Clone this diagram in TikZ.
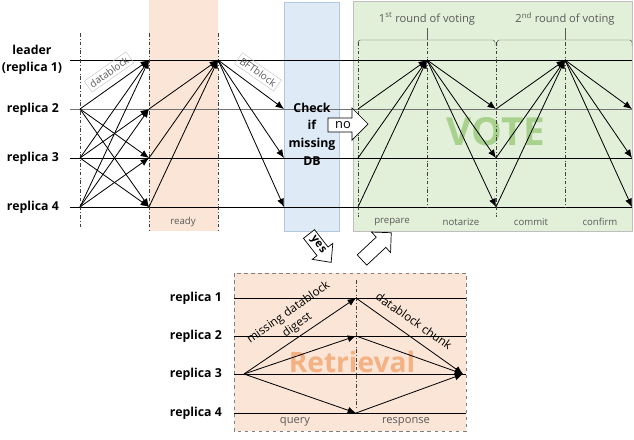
\documentclass[tikz,border=0pt]{standalone}
\usepackage{fontspec}
\setmainfont{Open Sans}
\usepackage{xcolor}
\usetikzlibrary{arrows.meta, positioning}

\definecolor{readybg}{HTML}{FBE5D6}
\definecolor{checkbg}{HTML}{DEEBF7}
\definecolor{checkedge}{HTML}{B4C7DC}
\definecolor{votebg}{HTML}{E2F0D9}
\definecolor{voteedge}{HTML}{BFBFBF}
\definecolor{votetxt}{HTML}{A9D18E}
\definecolor{retrtxt}{HTML}{F4B183}
\definecolor{tagtxt}{HTML}{595959}

\begin{document}
\begin{tikzpicture}[
  x=0.03cm, y=-0.03cm,
  >={Latex[length=2.5mm,width=2.1mm]},
  rep/.style={font=\bfseries\fontsize{10.5}{14.5}\selectfont, anchor=east},
  tag/.style={font=\fontsize{8.2}{10}\selectfont, text=tagtxt},
  tagbox/.style={tag, font=\fontsize{8.5}{10}\selectfont, draw=black!22, inner sep=2.5pt},
  msg/.style={->, line width=0.7pt},
  lane/.style={line width=0.6pt},
  phase/.style={dash dot, line width=0.5pt, draw=black!75},
  blockline/.style={draw=black, fill=white, line width=0.6pt, line join=miter}
]
  \useasboundingbox (0,0) rectangle (634,439);

  % phase backgrounds
  \fill[readybg] (149,0) rectangle (218,231);
  \draw[checkedge, fill=checkbg] (284,2) rectangle (339,231);
  \draw[voteedge, fill=votebg] (353,1) rectangle (632,231);
  \node[font=\bfseries\fontsize{33}{33}\selectfont, text=votetxt] (vote) at (496,132) {VOTE};

  % replicas
  \node[rep, align=center, anchor=center] (n1) at (32,60) {leader\\(replica 1)};
  \node[rep] (n2) at (63,109) {replica 2};
  \node[rep] (n3) at (63,158) {replica 3};
  \node[rep] (n4) at (63,207) {replica 4};

  \coordinate (w1) at (70,60);
  \coordinate (w2) at (70,109);
  \coordinate (w3) at (70,158);
  \coordinate (w4) at (70,207);
  \coordinate (rim) at (632,0);
  \draw[lane] (w1) -- (w1 -| rim);
  \draw[lane, draw=black!55] (w2) -- (w2 -| rim);
  \draw[lane] (w3) -- (w3 -| rim);
  \draw[lane] (w4) -- (w4 -| rim);

  % phase borders
  \coordinate (k0) at (80,33);
  \coordinate (k1) at (149,33);
  \coordinate (k2) at (218,33);
  \coordinate (k3) at (284,33);
  \coordinate (k4) at (358,42);
  \coordinate (k5) at (427,42);
  \coordinate (k6) at (496,42);
  \coordinate (k7) at (565,42);
  \coordinate (k8) at (632,42);
  \draw[phase] (k0) -- (80,227);
  \draw[phase] (k1) -- (149,231);
  \draw[phase] (k2) -- (218,231);
  \draw[phase] (k4) -- (358,217);
  \draw[phase] (k5) -- (427,207);
  \draw[phase] (k6) -- (496,217);
  \draw[phase] (k7) -- (565,207);

  % voting rounds
  \draw[black!65, rounded corners=2pt] (358,46) -- (358,40) -- (495,40) -- (495,46);
  \draw[black!65] (427,40) -- (427,28);
  \draw[black!65, rounded corners=2pt] (497,46) -- (497,40) -- (632,40) -- (632,46);
  \draw[black!65] (565,40) -- (565,28);
  \node[tag, font=\fontsize{9.5}{11}\selectfont] (r1) at (427,19) {1\textsuperscript{st} round of voting};
  \node[tag, font=\fontsize{9.5}{11}\selectfont] (r2) at (565,19) {2\textsuperscript{nd} round of voting};

  % datablock
  \draw[msg] (k0|-w2) -- (k1|-w1);
  \draw[msg] (k0|-w2) -- (k1|-w3);
  \draw[msg] (k0|-w2) -- (k1|-w4);
  \draw[msg] (k0|-w3) -- (k1|-w1);
  \draw[msg] (k0|-w3) -- (k1|-w2);
  \draw[msg] (k0|-w3) -- (k1|-w4);
  \draw[msg] (k0|-w4) -- (k1|-w1);
  \draw[msg] (k0|-w4) -- (k1|-w2);
  \draw[msg] (k0|-w4) -- (k1|-w3);
  \node[tagbox, rotate=35] (db) at (109,72) {datablock};

  % ready
  \draw[msg] (k1|-w2) -- (k2|-w1);
  \draw[msg] (k1|-w3) -- (k2|-w1);
  \draw[msg] (k1|-w4) -- (k2|-w1);
  \node[tag] (ready) at (183,222) {ready};

  % BFTblock
  \draw[msg] (k2|-w1) -- (k3|-w2);
  \draw[msg] (k2|-w1) -- (k3|-w3);
  \draw[msg] (k2|-w1) -- (k3|-w4);
  \node[tagbox, rotate=-35] (bft) at (258,72) {BFTblock};

  \node[font=\bfseries\fontsize{10.5}{15}\selectfont, align=center] (check) at (312,134) {Check\\if\\missing\\DB};

  % prepare / notarize
  \draw[msg] (k4|-w2) -- (k5|-w1);
  \draw[msg] (k4|-w3) -- (k5|-w1);
  \draw[msg] (k4|-w4) -- (k5|-w1);
  \draw[msg] (k5|-w1) -- (k6|-w2);
  \draw[msg] (k5|-w1) -- (k6|-w3);
  \draw[msg] (k5|-w1) -- (k6|-w4);
  % commit / confirm
  \draw[msg] (k6|-w2) -- (k7|-w1);
  \draw[msg] (k6|-w3) -- (k7|-w1);
  \draw[msg] (k6|-w4) -- (k7|-w1);
  \draw[msg] (k7|-w1) -- (k8|-w2);
  \draw[msg] (k7|-w1) -- (k8|-w3);
  \draw[msg] (k7|-w1) -- (k8|-w4);

  \node[tag] (prep) at (392,222) {prepare};
  \node[tag] (nota) at (461,222) {notarize};
  \node[tag] (comm) at (531,222) {commit};
  \node[tag] (conf) at (600,222) {confirm};

  % decisions
  \draw[blockline] (328,118) -- (352,118) -- (352,108) -- (368,124) -- (352,140) -- (352,132) -- (328,132) -- cycle;
  \node[font=\fontsize{11}{11}\selectfont] (no) at (343,125) {no};
  \begin{scope}[shift={(309,234)}, rotate=-52]
    \draw[blockline] (0,-7) -- (22,-7) -- (22,-13) -- (36,0) -- (22,13) -- (22,7) -- (0,7) -- cycle;
    \node[rotate=-52, inner sep=0pt, font=\bfseries\fontsize{9.5}{10}\selectfont] (yes) at (14,0) {yes};
  \end{scope}
  \begin{scope}[shift={(362,260)}, rotate=43]
    \draw[blockline] (0,-7) -- (26,-7) -- (26,-14) -- (40,0) -- (26,14) -- (26,7) -- (0,7) -- cycle;
  \end{scope}

  % retrieval
  \draw[dashed, draw=black!50, fill=readybg] (234,273) rectangle (466,431);
  \node[font=\bfseries\fontsize{24}{24}\selectfont, text=retrtxt] (retr) at (352,362) {Retrieval};

  \node[rep] (p1) at (226,298) {replica 1};
  \node[rep] (p2) at (226,336) {replica 2};
  \node[rep] (p3) at (226,374) {replica 3};
  \node[rep] (p4) at (226,413) {replica 4};

  \coordinate (q1) at (234,298);
  \coordinate (q2) at (234,336);
  \coordinate (q3) at (234,374);
  \coordinate (q4) at (234,413);
  \coordinate (qe) at (466,0);
  \draw[lane] (q1) -- (q1 -| qe);
  \draw[lane] (q2) -- (q2 -| qe);
  \draw[lane] (q3) -- (q3 -| qe);
  \draw[lane] (q4) -- (q4 -| qe);

  \coordinate (src) at (244,374);
  \coordinate (mid) at (356,280);
  \coordinate (dst) at (463,374);
  \draw[phase] (mid) -- (356,408);

  \draw[msg] (src) -- (mid|-q1);
  \draw[msg] (src) -- (mid|-q2);
  \draw[msg] (src) -- (mid|-q4);
  \draw[msg] (mid|-q1) -- (dst);
  \draw[msg] (mid|-q2) -- (dst);
  \draw[msg] (mid|-q4) -- (dst);

  \node[font=\fontsize{10}{13}\selectfont, rotate=35, align=center] (dig) at (293,319) {missing datablock\\digest};
  \node[font=\fontsize{10}{13}\selectfont, rotate=-35] (chunk) at (414,321) {datablock chunk};
  \node[tag, font=\fontsize{9.5}{11}\selectfont] (query) at (295,422) {query};
  \node[tag, font=\fontsize{9.5}{11}\selectfont] (resp) at (406,422) {response};
\end{tikzpicture}
\end{document}
